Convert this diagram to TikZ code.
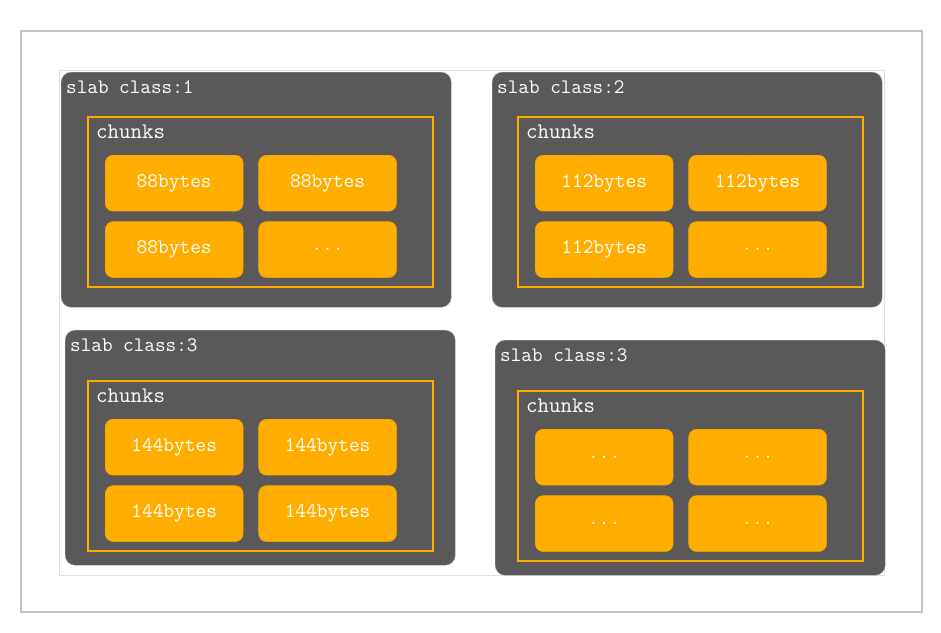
\documentclass[tikz,border=0pt]{standalone}
\usepackage{fontspec}
\usetikzlibrary{positioning}
\definecolor{slabgray}{HTML}{5A5858}
\definecolor{slabedge}{HTML}{9A9A9A}
\definecolor{chunkorange}{HTML}{FFAE00}
\definecolor{chunkedge}{HTML}{F0A200}
\definecolor{pageedge}{HTML}{C4C4C4}
\definecolor{inneredge}{HTML}{E0E0E0}

\tikzset{
  slab/.style = {draw=slabedge, fill=slabgray, rounded corners=10pt,
    minimum width=390pt, minimum height=235pt, inner sep=0pt, anchor=north west},
  slablabel/.style = {text=white, inner sep=0pt, anchor=west,
    font=\ttfamily\fontsize{20.6}{22}\selectfont},
  chunkframe/.style = {draw=chunkorange, line width=1.6pt,
    minimum width=345pt, minimum height=170pt, inner sep=0pt, anchor=north west},
  chunklabel/.style = {text=white, inner sep=0pt, anchor=west,
    font=\ttfamily\fontsize{22.3}{24}\selectfont},
  chunkbox/.style = {fill=chunkorange, draw=chunkedge, rounded corners=8pt,
    minimum width=138pt, minimum height=56pt, inner sep=0pt, text=white,
    font=\ttfamily\fontsize{20.8}{22}\selectfont}
}

% #1 name, #2 slab corner, #3 chunks corner, #4 label, #5-#8 chunk texts
\newcommand\slabpanel[8]{%
  \node[slab] (#1) at (#2) {};
  \node[slablabel] (#1-label) at ([shift={(5,15)}]#1.north west) {#4};
  \node[chunkframe] (#1-chunks) at (#3) {};
  \node[chunklabel] (#1-title) at ([shift={(9,16)}]#1-chunks.north west) {chunks};
  \node[chunkbox, anchor=north west] (#1-a) at ([shift={(18,39)}]#1-chunks.north west) {#5};
  \node[chunkbox, right=15pt of #1-a] (#1-b) {#6};
  \node[chunkbox, below=10pt of #1-a] (#1-c) {#7};
  \node[chunkbox, right=15pt of #1-c] (#1-d) {#8};
}

\begin{document}
\begin{tikzpicture}[x=1pt, y=-1pt]
  \fill[white] (0,0) rectangle (941,632);
  \useasboundingbox (0,0) rectangle (941,632);
  % page frames
  \draw[pageedge, line width=1.5pt] (21,31) rectangle (922,612);
  \draw[inneredge, line width=0.8pt] (59,70) rectangle (884,575);
  % slab classes
  \slabpanel{one}{61,72}{87,116}{slab class:1}{88bytes}{88bytes}{88bytes}{...}
  \slabpanel{two}{492,72}{517,116}{slab class:2}{112bytes}{112bytes}{112bytes}{...}
  \slabpanel{three}{65,330}{87,380}{slab class:3}{144bytes}{144bytes}{144bytes}{144bytes}
  \slabpanel{four}{495,340}{517,390}{slab class:3}{...}{...}{...}{...}
\end{tikzpicture}
\end{document}
